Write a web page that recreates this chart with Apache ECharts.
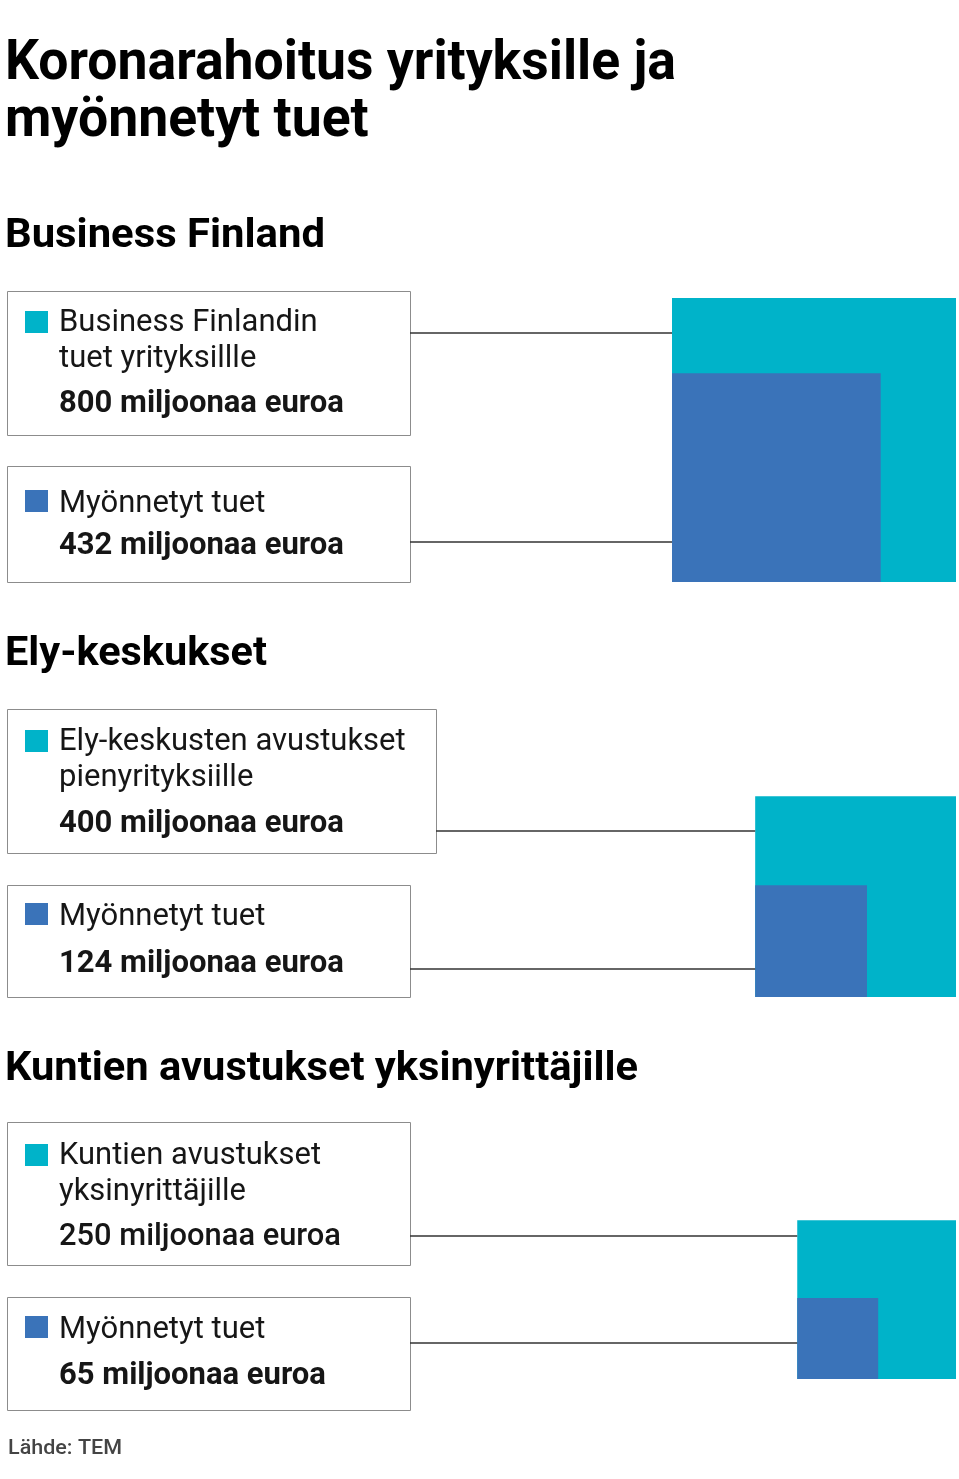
<!DOCTYPE html>
<html>
<head>
<meta charset="utf-8">
<script src="https://cdn.jsdelivr.net/npm/echarts@6.0.0/dist/echarts.min.js"></script>
<style>
  body { margin: 0; background: #fff; }
  #main { width: 959px; height: 1479px; }
</style>
</head>
<body>
<div id="main"></div>
<script>
// otsikot ja arvot (milj. euroa)
var titleLines = ['Koronarahoitus yrityksille ja', 'myönnetyt tuet'];
var groupNames = ['Business Finland', 'Ely-keskukset', 'Kuntien avustukset yksinyrittäjille'];
var totalNames = [
    ['Business Finlandin', 'tuet yrityksillle'],
    ['Ely-keskusten avustukset', 'pienyrityksiille'],
    ['Kuntien avustukset', 'yksinyrittäjille']
];
var grantedName = 'Myönnetyt tuet';
var totals = [800, 400, 250];
var granted = [432, 124, 65];
var unit = 'miljoonaa euroa';
var source = 'Lähde: TEM';

var colors = ['#00b3c9', '#3a73b9'];

// sijoittelu pikseleinä
var layout = [
    {head: 251, bottom: 582, box1: [291, 435, 410], box2: [466, 582, 410], base1: [331, 367, 412], base2: [512, 553], line: [333, 542], cond: false},
    {head: 669, bottom: 997, box1: [709, 853, 436], box2: [885, 997, 410], base1: [750, 786, 832], base2: [925, 971], line: [831, 969], cond: false},
    {head: 1084, bottom: 1379, box1: [1122, 1265, 410], box2: [1297, 1410, 410], base1: [1164, 1200, 1245], base2: [1338, 1383], line: [1236, 1343], cond: true}
];
var shift = 3;

var chart = echarts.init(document.getElementById('main'));

var ctx = document.createElement('canvas').getContext('2d');
function fit(text, weight, size, target) {
    ctx.font = weight + ' ' + size + 'px Roboto';
    return target / ctx.measureText(text).width;
}

function txt(x, base, text, size, weight, fill, sx) {
    return {
        type: 'text',
        x: x,
        y: base - size * 0.342,
        scaleX: sx || 1,
        silent: true,
        style: {
            text: text,
            fontFamily: 'Roboto',
            fontSize: size,
            fontWeight: weight,
            fill: fill,
            align: 'left',
            verticalAlign: 'middle'
        }
    };
}

var graphics = [];
var titleScale = fit(titleLines[0], 'bold', 56, 671);
graphics.push(txt(5, 84, titleLines[0], 56, 'bold', '#000', titleScale));
graphics.push(txt(5, 141, titleLines[1], 56, 'bold', '#000', titleScale));

var headW = [320, 262, 633];
layout.forEach(function (l, i) {
    graphics.push(txt(5, l.head, groupNames[i], 40, 'bold', '#000', fit(groupNames[i], 'bold', 40, headW[i])));

    [l.box1, l.box2].forEach(function (b) {
        graphics.push({
            type: 'rect',
            silent: true,
            shape: {x: 7.5, y: b[0] + 0.5, width: b[2] - 7, height: b[1] - b[0]},
            style: {fill: '#fff', stroke: '#8c8c8c', lineWidth: 1}
        });
    });

    graphics.push({type: 'rect', silent: true, shape: {x: 25, y: l.base1[0] - 20, width: 23, height: 22}, style: {fill: colors[0]}});
    graphics.push({type: 'rect', silent: true, shape: {x: 25, y: l.base2[0] - 22, width: 23, height: 22}, style: {fill: colors[1]}});

    var sx = l.cond ? fit(totalNames[i][0], 'normal', 31, 262) : 1;
    var sxb = l.cond ? fit(totals[i] + ' ' + unit, '500', 31, 282) : 1;
    graphics.push(txt(59, l.base1[0] + shift, totalNames[i][0], 31, 'normal', '#161616', sx));
    graphics.push(txt(59, l.base1[1] + shift, totalNames[i][1], 31, 'normal', '#161616', sx));
    graphics.push(txt(59, l.base1[2] + shift, totals[i] + ' ' + unit, 31, l.cond ? '500' : 'bold', '#161616', sxb));
    graphics.push(txt(59, l.base2[0] + shift, grantedName, 31, 'normal', '#161616'));
    graphics.push(txt(59, l.base2[1] + shift + 1, granted[i] + ' ' + unit, 31, 'bold', '#161616'));
});
graphics.push(txt(8, 1456, source, 20, '500', '#444', fit(source, '500', 20, 114)));

var maxSide = Math.sqrt(Math.max.apply(null, totals));

// neliön pinta-ala ~ summa; myönnetty neliö vasempaan alakulmaan
function renderSquare(params, api) {
    var i = params.seriesIndex;
    var l = layout[i];
    var k = params.dataIndex;
    var left = maxSide - Math.sqrt(totals[i]);
    var s = Math.sqrt(api.value(0));
    var p0 = api.coord([left, s]);
    var p1 = api.coord([left + s, 0]);
    var bx = k === 0 ? l.box1[2] : l.box2[2];
    return {
        type: 'group',
        children: [{
            type: 'rect',
            shape: {x: p0[0], y: p0[1], width: p1[0] - p0[0], height: p1[1] - p0[1]},
            style: {fill: colors[k]}
        }, {
            type: 'line',
            shape: {x1: bx, y1: l.line[k], x2: p0[0], y2: l.line[k]},
            style: {stroke: '#333', lineWidth: 1.5}
        }]
    };
}

var option = {
    animation: false,
    grid: layout.map(function (l) {
        return {right: 3, width: 284, bottom: 1479 - l.bottom, height: 284};
    }),
    xAxis: layout.map(function (l, i) {
        return {type: 'value', gridIndex: i, min: 0, max: maxSide, show: false};
    }),
    yAxis: layout.map(function (l, i) {
        return {type: 'value', gridIndex: i, min: 0, max: maxSide, show: false};
    }),
    series: totals.map(function (t, i) {
        return {
            type: 'custom',
            xAxisIndex: i,
            yAxisIndex: i,
            silent: true,
            data: [[t, 0], [granted[i], 1]],
            renderItem: renderSquare
        };
    }),
    graphic: graphics
};
chart.setOption(option);
</script>
</body>
</html>
